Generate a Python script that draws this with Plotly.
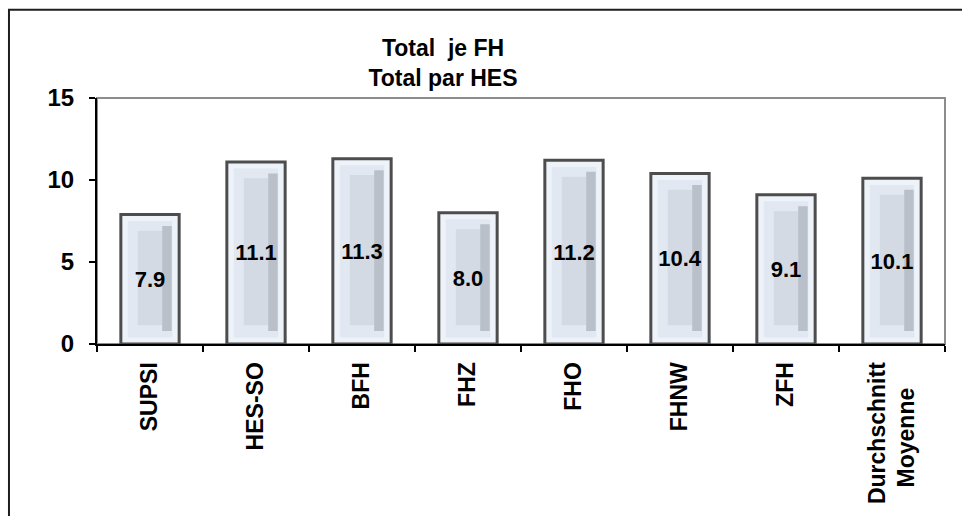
import plotly.graph_objects as go

categories = ["SUPSI", "HES-SO", "BFH", "FHZ", "FHO", "FHNW", "ZFH",
              "Durchschnitt<br>Moyenne<span style='color:rgba(0,0,0,0)'>....</span>"]
values = [7.9, 11.1, 11.3, 8.0, 11.2, 10.4, 9.1, 10.1]
y_ticks = [0, 5, 10, 15]
title_lines = ["Total  je FH", "Total par HES"]

FONT = "Liberation Sans, Arial, sans-serif"

fig = go.Figure()

# outer bar body (light frame)
fig.add_trace(go.Bar(x=categories, y=values, width=0.55,
                     marker=dict(color="#eef3f9", line=dict(width=0)),
                     hoverinfo="skip", showlegend=False))
# bevel region
fig.add_trace(go.Bar(x=categories, y=[v - 0.8 for v in values], base=0.4, width=0.42,
                     marker=dict(color="#e1e8f1", line=dict(width=0)),
                     hoverinfo="skip", showlegend=False))
# centre panel
fig.add_trace(go.Bar(x=categories, y=[v - 2.15 for v in values], base=1.15, width=0.23,
                     marker=dict(color="#d3dae4", line=dict(width=0)),
                     hoverinfo="skip", showlegend=False))
# right darker stripe
fig.add_trace(go.Bar(x=categories, y=[v - 1.5 for v in values], base=0.8, width=0.09,
                     offset=0.115,
                     marker=dict(color="#b9c0ca", line=dict(width=0)),
                     hoverinfo="skip", showlegend=False))
# outline + value labels
fig.add_trace(go.Bar(x=categories, y=values, width=0.55,
                     marker=dict(color="rgba(0,0,0,0)", line=dict(color="#4d4d4d", width=3)),
                     text=[f"{v:.1f}" for v in values],
                     textposition="inside", insidetextanchor="middle",
                     constraintext="none", textangle=0,
                     textfont=dict(family=FONT, size=22, color="black", weight="bold"),
                     hoverinfo="skip", showlegend=False))

fig.update_layout(
    barmode="overlay",
    width=962, height=516,
    margin=dict(l=97, r=17, t=98, b=170),
    paper_bgcolor="white", plot_bgcolor="white",
    font=dict(family=FONT, color="black"),
    title=dict(text="<br>".join(title_lines), x=443 / 962, xanchor="center",
               xref="container", y=1 - 56 / 516, yanchor="top",
               font=dict(family=FONT, size=23, color="black", weight="bold")),
    xaxis=dict(type="category", showgrid=False, showline=True, linecolor="black", linewidth=2,
               ticks="outside", tickson="boundaries", ticklen=6, tickwidth=2, tickcolor="black",
               tickangle=-90, ticklabelstandoff=7,
               tickfont=dict(family=FONT, size=23, color="black", weight="bold")),
    yaxis=dict(range=[0, 15], tickvals=y_ticks, showgrid=False, zeroline=False,
               showline=True, linecolor="black", linewidth=2,
               ticks="outside", ticklen=6, tickwidth=2, tickcolor="black",
               ticklabelstandoff=10,
               tickfont=dict(family=FONT, size=24, color="black", weight="bold")),
    shapes=[
        dict(type="rect", xref="paper", yref="paper", x0=0, x1=1, y0=0, y1=1,
             line=dict(color="#8c8c8c", width=2), layer="below"),
        dict(type="rect", xref="paper", yref="paper", x0=-0.1038, x1=1.2, y0=-0.8, y1=1.359,
             line=dict(color="#1e1e1e", width=2), layer="above"),
    ],
)

fig.write_html("out.html", config={"displayModeBar": False},
               post_script="document.body.style.margin='0';")
